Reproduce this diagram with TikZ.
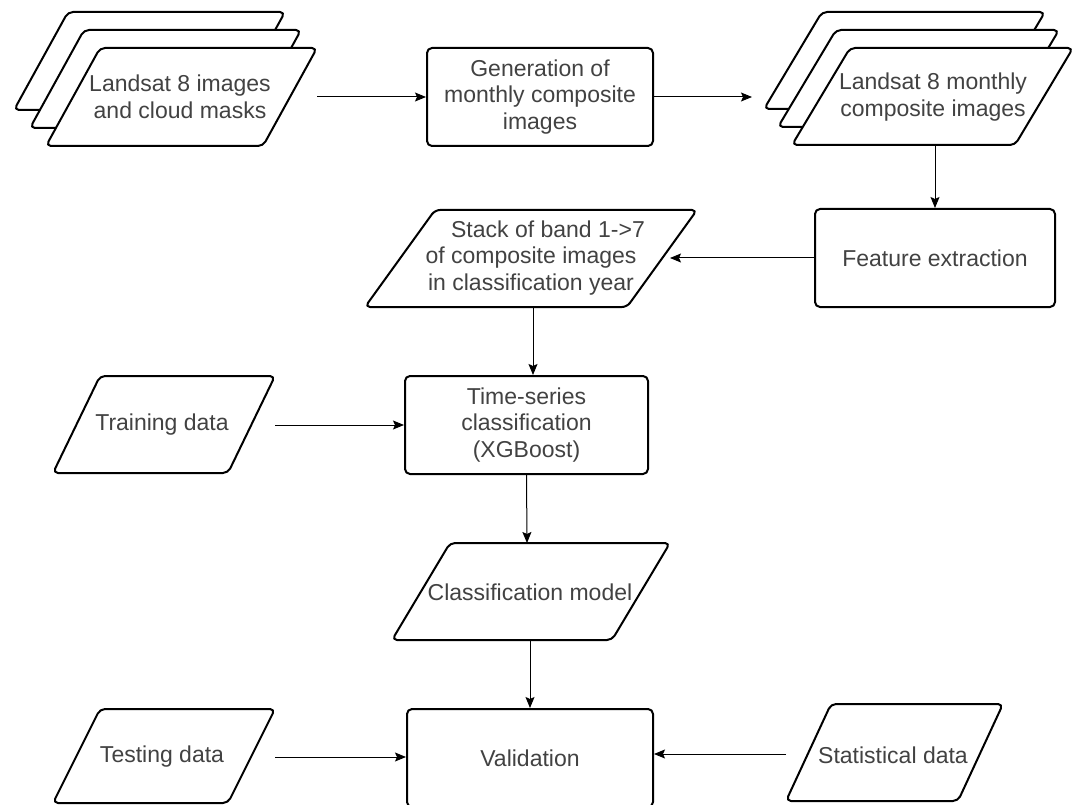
\documentclass[tikz,border=0pt]{standalone}
\usepackage{fontspec}
\setmainfont{Liberation Sans}
\usetikzlibrary{arrows.meta}
\definecolor{txtgray}{RGB}{66,66,66}
% parallelogram: #1 x of top-left, #2 y of top, #3 width, #4 height, #5 slant
\newcommand\pgram[5]{%
  \draw[shp] (#1,#2) -- ++(#3,0) -- ++(-#5,#4) -- ++(-#3,0) -- cycle;}
\begin{document}
\begin{tikzpicture}[x=1pt,y=-1pt,
  shp/.style={draw=black, line width=2pt, rounded corners=5pt, fill=white, line join=round},
  txt/.style={text=txtgray, font=\fontsize{23}{26.5}\selectfont, align=center, inner sep=0pt},
  box/.style={shp, txt},
  arr/.style={line width=1pt, -{Stealth[length=11pt,width=9pt,inset=2pt]}}]
\useasboundingbox (0,0) rectangle (1074,805);

% stack 1
\pgram{68}{12}{217}{98}{54}
\pgram{84}{30}{217}{98}{54}
\pgram{100}{48}{217}{98}{54}
\node[txt] (s1) at (180,97) {Landsat 8 images\\and cloud masks};
\coordinate (s1e) at (317,97);

% generation box
\node[box, minimum width=226pt, minimum height=98pt] (gen) at (540,97) {Generation of\\monthly composite\\images};

% stack 2
\pgram{822}{12}{223}{97}{58}
\pgram{836}{30}{223}{97}{58}
\pgram{850}{48}{223}{97}{58}
\node[txt] (s2) at (933,97) {Landsat 8 monthly\\composite images};
\coordinate (s2w) at (752,97);
\coordinate (s2s) at (935,145);

% feature extraction
\node[box, minimum width=240pt, minimum height=98pt] (feat) at (935,258) {Feature extraction};

% stack of bands
\pgram{435}{210}{262}{97}{70}
\node[txt] (band) at (531,258) {\hspace*{34pt}Stack of band 1->7\\of composite images\\in classification year};
\coordinate (bande) at (670,258);
\coordinate (bands) at (533,307);

% time-series classification
\node[box, minimum width=243pt, minimum height=98pt] (ts) at (526.5,425) {Time-series\\classification\\(XGBoost)};

% training data
\pgram{100}{376}{175}{97}{47}
\node[txt] (train) at (162,425) {Training data};
\coordinate (traine) at (275,425);

% classification model
\pgram{450}{543}{220}{97}{58}
\node[txt] (cm) at (530,592) {Classification model};
\coordinate (cmn) at (527,543);
\coordinate (cms) at (530,640);

% validation
\node[box, minimum width=246pt, minimum height=98pt] (val) at (530,758) {Validation};

% testing data
\pgram{100}{709}{175}{94}{47}
\node[txt] (test) at (162,757) {Testing data};
\coordinate (teste) at (275,757);

% statistical data
\pgram{831}{704}{172}{97}{45}
\node[txt] (stat) at (893,755) {Statistical data};
\coordinate (statw) at (786,754);

% connectors
\draw[arr] (s1e) -- (gen.west);
\draw[arr] (gen.east) -- (s2w);
\draw[arr] (s2s) -- (s2s |- feat.north);
\draw[arr] (feat.west) -- (bande);
\draw[arr] (bands) -- (bands |- ts.north);
\draw[arr] (traine) -- (ts.west);
\draw[arr] (ts.south) -- (cmn);
\draw[arr] (cms) -- (cms |- val.north);
\draw[arr] (teste) -- (val.west |- teste);
\draw[arr] (statw) -- (val.east |- statw);
\end{tikzpicture}
\end{document}
